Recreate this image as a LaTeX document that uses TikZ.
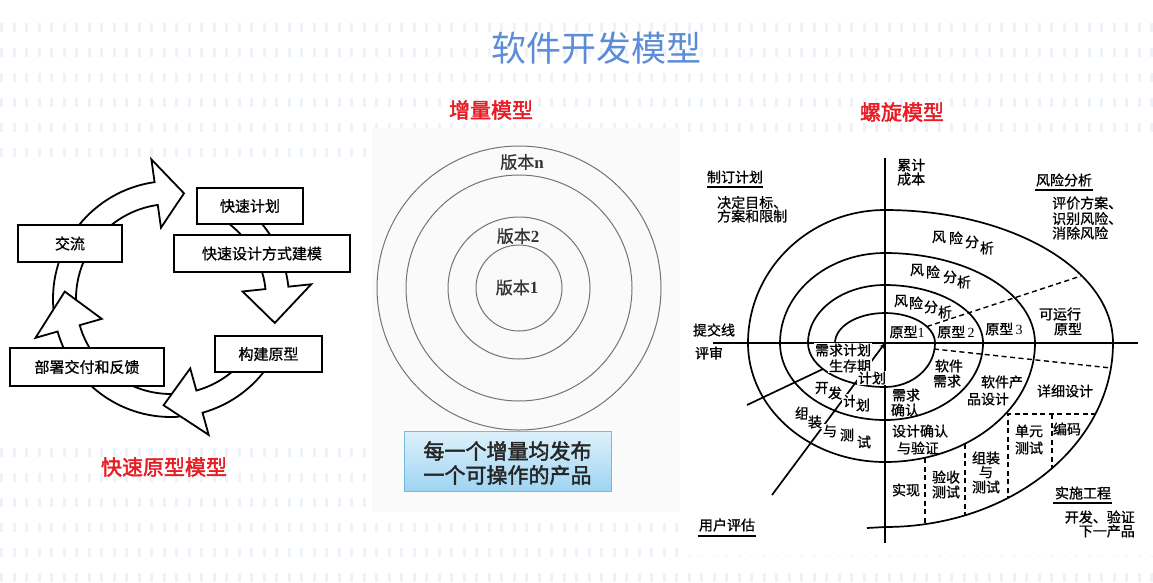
\documentclass[tikz,border=0pt]{standalone}
\usepackage{fontspec}
\newfontfamily\cjk{Noto Sans CJK SC}
\newfontfamily\cjkm[FakeBold=0.9]{Noto Sans CJK SC}
\newfontfamily\cjkb[FakeBold=2]{Noto Sans CJK SC}
\newfontfamily\tms{Liberation Serif}
\usetikzlibrary{arrows.meta}
\definecolor{titleblue}{RGB}{90,140,215}
\definecolor{lblred}{RGB}{232,28,36}
\definecolor{stripe}{RGB}{238,243,250}
\definecolor{boxtop}{RGB}{222,241,251}
\definecolor{boxbot}{RGB}{158,212,242}
\definecolor{boxedge}{RGB}{120,185,225}
\definecolor{midpanel}{RGB}{250,250,250}
\definecolor{ringgray}{RGB}{115,115,115}
\newcommand\ringseg[3]{%
\fill[white] (#1:118) arc[start angle=#1,end angle=#2,radius=118] -- (#2:141) -- (#3:106.5) -- (#2:72) -- (#2:95) arc[start angle=#2,end angle=#1,radius=95] -- cycle;
\draw[ringline] (#1:118) arc[start angle=#1,end angle=#2,radius=118] -- (#2:141) -- (#3:106.5) -- (#2:72) -- (#2:95) arc[start angle=#2,end angle=#1,radius=95];}
\begin{document}
\begin{tikzpicture}[x=1pt,y=-1pt,
  ringline/.style={line width=1.8pt,black},
  lbox/.style={draw,line width=1.8pt,fill=white,font=\cjkm\fontsize{15}{15}\selectfont,inner sep=0pt},
  redlbl/.style={text=lblred,font=\cjkb\fontsize{21}{21}\selectfont,inner sep=0pt},
  ver/.style={text=black!80,font=\cjkm\fontsize{17}{17}\selectfont,inner sep=0pt},
  circ/.style={draw=ringgray,line width=1pt},
  spl/.style={line width=1.7pt,black},
  sdash/.style={line width=1.4pt,black,dash pattern=on 5pt off 3.5pt},
  sp/.style={font=\cjkm\fontsize{14}{16}\selectfont,inner sep=0pt},
  spw/.style={sp,fill=white,inner sep=0.6pt},
  uline/.style={line width=2.8pt,black}]
\useasboundingbox (0,0) rectangle (1153,582);
\fill[white] (0,0) rectangle (1153,582);
% faint striped background
\foreach \k in {1,...,23}
  \draw[stripe,line width=9pt,dash pattern=on 3pt off 9.5pt] (0,{2+25*\k}) -- (1153,{2+25*\k});
% panels
\fill[white] (0,160) rectangle (368,442);
\fill[midpanel] (372,128) rectangle (680,512);
\fill[white] (680,145) rectangle (1153,556);
% title and captions
\node[font=\cjk\fontsize{35}{35}\selectfont,text=titleblue,inner sep=0pt] (title) at (596,48) {软件开发模型};
\node[redlbl] (capinc) at (491,110) {增量模型};
\node[redlbl] (capspi) at (902,112) {螺旋模型};
\node[redlbl] (capfast) at (164,467) {快速原型模型};
% ---------- rapid prototyping cycle ----------
\begin{scope}[shift={(171,299)}]
\ringseg{175}{262}{277}
\ringseg{86}{164}{184}
\ringseg{30}{74.5}{94}
\ringseg{300}{354}{373}
\end{scope}
\node[lbox,minimum width=104pt,minimum height=37pt] (jl) at (70,243.5) {交流};
\node[lbox,minimum width=106pt,minimum height=36pt] (ksjh) at (250,206) {快速计划};
\node[lbox,minimum width=176pt,minimum height=37pt] (ksjm) at (262,253.5) {快速设计方式建模};
\node[lbox,minimum width=107pt,minimum height=36pt] (gjyx) at (268.5,354) {构建原型};
\node[lbox,minimum width=154pt,minimum height=38pt] (bsjf) at (87,367) {部署交付和反馈};
% ---------- incremental model ----------
\coordinate (cc) at (519,288);
\draw[circ] (cc) circle[radius=142];
\draw[circ] (cc) circle[radius=113];
\draw[circ] (cc) circle[radius=71];
\draw[circ] (cc) circle[radius=43];
\node[ver] (vn) at (522,162) {版本{\tms\bfseries n}};
\node[ver] (v2) at (518,236) {版本{\tms\bfseries 2}};
\node[ver] (v1) at (517,287.5) {版本{\tms\bfseries 1}};
\node[draw=boxedge,line width=1pt,top color=boxtop,bottom color=boxbot,minimum width=207pt,minimum height=60pt,inner sep=0pt] (msg) at (507.5,461) {};
\node[font=\cjkb\fontsize{21}{24}\selectfont,text=black!85,align=center,inner sep=0pt] (msgtxt) at (507.5,463) {每一个增量均发布\\一个可操作的产品};
% ---------- spiral model ----------
\coordinate (O) at (885,343);
\coordinate (vt) at (885,158);
\coordinate (vb) at (885,543);
\coordinate (hl) at (713,343);
\coordinate (hr) at (1138,343);
\coordinate (s0) at (835,343);
\draw[spl] (vt) -- (vb);
\draw[spl] (hl) -- (hr);
\draw[spl] (s0)
  arc[start angle=180,end angle=270,x radius=50,y radius=30]
  arc[start angle=270,end angle=360,x radius=50,y radius=30]
  arc[start angle=0,end angle=90,x radius=50,y radius=44]
  arc[start angle=90,end angle=180,x radius=77,y radius=44]
  arc[start angle=180,end angle=270,x radius=77,y radius=58]
  arc[start angle=270,end angle=360,x radius=98,y radius=58]
  arc[start angle=0,end angle=90,x radius=98,y radius=77]
  arc[start angle=90,end angle=180,x radius=105,y radius=77]
  arc[start angle=180,end angle=270,x radius=105,y radius=90]
  arc[start angle=270,end angle=360,x radius=150,y radius=90]
  arc[start angle=0,end angle=90,x radius=150,y radius=119]
  arc[start angle=90,end angle=180,x radius=137,y radius=119]
  arc[start angle=180,end angle=270,x radius=137,y radius=133]
  arc[start angle=270,end angle=360,x radius=228,y radius=133]
  arc[start angle=0,end angle=90,x radius=228,y radius=184]
  -- ++(-18,1);
% dashed lines
\coordinate (d1a) at (927,326.5); \coordinate (d1b) at (1081,276);
\coordinate (d2a) at (934,349);   \coordinate (d2b) at (1111,368);
\coordinate (hd1) at (1008,414);  \coordinate (hd2) at (1096,414);
\coordinate (va1) at (1008,498);
\coordinate (vb0) at (1052,414);  \coordinate (vb1) at (1052,468);
\coordinate (vc0) at (925,458);   \coordinate (vc1) at (925,524);
\coordinate (vd0) at (965,444);   \coordinate (vd1) at (965,515);
\draw[sdash] (d1a) -- (d1b);
\draw[sdash] (d2a) -- (d2b);
\draw[sdash] (hd2) -- (hd1) -- (va1);
\draw[sdash] (vb0) -- (vb1);
\draw[sdash] (vc0) -- (vc1);
\draw[sdash] (vd0) -- (vd1);
% solid lines lower-left
\coordinate (l1b) at (772,495);
\coordinate (l2a) at (823,369); \coordinate (l2b) at (747,405);
\draw[spl,-{Stealth[length=6pt,width=4.5pt]}] (l1b) -- (O);
\draw[spl] (l2a) -- (l2b);
% quadrant headings
\node[sp] (zdjh) at (735,177) {制订计划};
\draw[uline] (707,187) -- (763,187);
\node[sp,anchor=west] (jdmb) at (717,202.5) {决定目标、};
\node[sp,anchor=west] (faxz) at (717,216) {方案和限制};
\node[sp,anchor=west] (ljj) at (897,165) {累计};
\node[sp,anchor=west] (cb) at (897,179) {成本};
\node[sp] (fxfx) at (1064,180) {风险分析};
\draw[uline] (1035,190) -- (1093,190);
\node[sp,anchor=west] (pjfa) at (1052,203) {评价方案、};
\node[sp,anchor=west] (sbfx) at (1052,218.5) {识别风险、};
\node[sp,anchor=west] (xcfx) at (1052,233) {消除风险};
\node[sp] (ssgc) at (1083,493) {实施工程};
\draw[uline] (1053,503) -- (1112,503);
\node[sp,anchor=east] (kfyz) at (1135,517) {开发、验证};
\node[sp,anchor=east] (xycp) at (1135,531) {下一产品};
\node[sp] (yhpg) at (727,525) {用户评估};
\draw[uline] (698,536) -- (756,536);
\node[sp] (tjx) at (714,330) {提交线};
\node[sp] (ps) at (709,353) {评审};
% risk analysis labels (staggered)
\foreach \c/\x/\y [count=\i] in {风/939/237,险/956/238,分/972/242,析/987/248}
  \node[sp] (ra\i) at (\x,\y) {\c};
\foreach \c/\x/\y [count=\i] in {风/917/270,险/933/272,分/950/277,析/964/282}
  \node[sp] (rb\i) at (\x,\y) {\c};
\foreach \c/\x/\y [count=\i] in {风/901/301,险/916/303,分/931/307,析/945/312}
  \node[sp] (rc\i) at (\x,\y) {\c};
% prototypes
\node[sp] (yx1) at (907,332) {原型{\tms 1}};
\node[sp] (yx2) at (956,332) {原型\,{\tms 2}};
\node[sp] (yx3) at (1004,329) {原型\,{\tms 3}};
\node[sp] (kyx) at (1060,314) {可运行};
\node[sp] (kyx2) at (1068,329) {原型};
% lower right
\node[sp] (rj1) at (949,366) {软件};
\node[sp] (rj2) at (947,381) {需求};
\node[sp] (rc1) at (1002,382) {软件产};
\node[sp] (rc2) at (988,399) {品设计};
\node[sp] (xxsj) at (1065,391) {详细设计};
\node[sp] (dy1) at (1029,431) {单元};
\node[sp] (dy2) at (1029,448) {测试};
\node[sp] (bm) at (1067,429) {编码};
\node[sp] (xq1) at (906,395) {需求};
\node[sp] (xq2) at (905,410) {确认};
\node[sp] (sj1) at (920,431) {设计确认};
\node[sp] (sj2) at (918,448) {与验证};
\node[sp] (zz1) at (986,458) {组装};
\node[sp] (zz2) at (986,472) {与};
\node[sp] (zz3) at (986,487) {测试};
\node[sp] (ys1) at (946,477) {验收};
\node[sp] (ys2) at (946,492) {测试};
\node[sp] (sx) at (906,490) {实现};
% lower left
\node[spw] (xqjh) at (843,350) {需求计划};
\node[spw] (scq) at (850,366) {生存期};
\node[spw] (jh1) at (872,378) {计划};
\foreach \c/\x/\y [count=\i] in {开/822/388,发/835/393,计/850/401,划/863/405}
  \node[spw] (kf\i) at (\x,\y) {\c};
\foreach \c/\x/\y [count=\i] in {组/802/413,装/815/422,与/830/431,测/847/435,试/864/442}
  \node[spw] (zc\i) at (\x,\y) {\c};
\end{tikzpicture}
\end{document}
